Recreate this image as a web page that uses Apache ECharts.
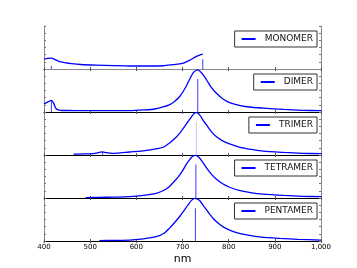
<!DOCTYPE html>
<html><head><meta charset="utf-8">
<script src="https://cdn.jsdelivr.net/npm/echarts@6/dist/echarts.min.js"></script>
<style>html,body{margin:0;padding:0;background:#fff}#c{width:357px;height:268px}</style>
</head><body><div id="c"></div>
<script>
const seriesNames = ['MONOMER', 'DIMER', 'TRIMER', 'TETRAMER', 'PENTAMER'];

const monomerNm  = [400, 408, 416, 424, 432, 445, 460, 480, 513, 550, 585, 620, 658, 679, 694, 705, 715, 723, 730, 737, 744];
const monomerVal = [0.276, 0.294, 0.306, 0.264, 0.216, 0.18, 0.15, 0.126, 0.108, 0.094, 0.084, 0.084, 0.091, 0.12, 0.144, 0.18, 0.24, 0.3, 0.354, 0.39, 0.415];

const dimerNm  = [400, 408, 416, 421, 426, 435, 450, 477, 530, 585, 620, 640, 658, 670, 682, 694, 705, 715, 724, 733, 742, 752, 762, 773, 787, 802, 825, 850, 875, 920, 960, 1000];
const dimerVal = [0.228, 0.276, 0.324, 0.24, 0.096, 0.048, 0.042, 0.036, 0.036, 0.036, 0.06, 0.084, 0.144, 0.192, 0.288, 0.432, 0.648, 0.9, 1.104, 1.176, 1.08, 0.9, 0.696, 0.528, 0.372, 0.264, 0.18, 0.132, 0.108, 0.072, 0.048, 0.036];

const trimerNm  = [464, 490, 510, 520, 527, 535, 549, 565, 585, 610, 630, 645, 658, 672, 685, 694, 705, 715, 724, 730, 738, 745, 752, 762, 773, 787, 802, 825, 850, 875, 920, 960, 1000];
const trimerVal = [0.024, 0.03, 0.048, 0.072, 0.09, 0.066, 0.048, 0.06, 0.084, 0.108, 0.144, 0.18, 0.216, 0.336, 0.48, 0.612, 0.804, 0.984, 1.14, 1.19, 1.104, 0.96, 0.84, 0.66, 0.516, 0.396, 0.312, 0.216, 0.156, 0.108, 0.072, 0.048, 0.036];

const tetramerNm  = [490, 520, 550, 585, 615, 643, 660, 672, 679, 690, 700, 708, 716, 722, 729, 736, 744, 752, 762, 773, 787, 802, 825, 850, 875, 920, 960, 1000];
const tetramerVal = [0.012, 0.018, 0.024, 0.036, 0.072, 0.132, 0.216, 0.324, 0.42, 0.576, 0.756, 0.936, 1.08, 1.164, 1.19, 1.128, 0.996, 0.84, 0.672, 0.528, 0.396, 0.3, 0.204, 0.144, 0.108, 0.072, 0.048, 0.036];

const pentamerNm  = [520, 550, 585, 615, 643, 660, 672, 683, 694, 704, 712, 720, 726, 732, 738, 744, 755, 766, 777, 788, 810, 839, 870, 911, 950, 1000];
const pentamerVal = [0.012, 0.018, 0.024, 0.06, 0.12, 0.216, 0.36, 0.516, 0.684, 0.864, 1.008, 1.14, 1.188, 1.176, 1.116, 1.008, 0.816, 0.636, 0.504, 0.396, 0.264, 0.168, 0.108, 0.072, 0.048, 0.024];

const peakNm      = [744, 733, 730, 729, 728];
const peakLineTop = [0.276, 0.924, 0.924, 0.936, 0.912];
const sidePanel   = [0, 1, 2];
const sideNm      = [416, 416, 527];
const sideLineTop = [0.09, 0.324, 0.084];

const xMin = 400, xMax = 1000, xStep = 100;
const yMax = 1.2, yStep = 0.2;

const curves = [
  [monomerNm, monomerVal], [dimerNm, dimerVal], [trimerNm, trimerVal],
  [tetramerNm, tetramerVal], [pentamerNm, pentamerVal]
];

const FONT = 'DejaVu Sans';
const BLUE = '#0000ff';
const top0 = 26, ph = 43, left = 44, right = 36;

const grid = [], xAxis = [], yAxis = [], series = [], legend = [];
for (let i = 0; i < 5; i++) {
  const top = top0 + ph * i;
  grid.push({ left: left, right: right, top: top, height: ph, show: false });
  const last = i === 4;
  xAxis.push({
    type: 'value', gridIndex: i, min: xMin, max: xMax, interval: xStep, position: 'bottom',
    axisLine: { show: true, lineStyle: { color: '#000', width: 1 } },
    axisTick: { show: true, inside: true, length: 2, lineStyle: { color: '#555' } },
    axisLabel: { show: last, fontSize: 7, color: '#000', fontFamily: FONT, margin: 3 },
    splitLine: { show: false },
    name: last ? 'nm' : '', nameLocation: 'middle', nameGap: 13,
    nameTextStyle: { fontSize: 11, color: '#000', fontFamily: FONT }
  });
  xAxis.push({
    type: 'value', gridIndex: i, min: xMin, max: xMax, interval: xStep, position: 'top',
    axisLine: { show: i === 0, lineStyle: { color: '#888', width: 1 } },
    axisTick: { show: true, inside: true, length: 2, lineStyle: { color: '#555' } },
    axisLabel: { show: false }, splitLine: { show: false }
  });
  yAxis.push({
    type: 'value', gridIndex: i, min: 0, max: yMax, interval: yStep, position: 'left',
    axisLine: { show: true, lineStyle: { color: '#888', width: 1 } },
    axisTick: { show: true, inside: true, length: 2, lineStyle: { color: '#777' } },
    axisLabel: { show: false }, splitLine: { show: false }
  });
  yAxis.push({
    type: 'value', gridIndex: i, min: 0, max: yMax, interval: yStep, position: 'right',
    axisLine: { show: true, lineStyle: { color: '#888', width: 1 } },
    axisTick: { show: true, inside: true, length: 2, lineStyle: { color: '#777' } },
    axisLabel: { show: false }, splitLine: { show: false }
  });

  const [nm, val] = curves[i];
  series.push({
    name: seriesNames[i], type: 'line', xAxisIndex: 2 * i, yAxisIndex: 2 * i,
    data: nm.map((x, k) => [x, val[k]]), symbol: 'none', smooth: 0.25,
    lineStyle: { color: BLUE, width: 1.3 }, itemStyle: { color: BLUE }, z: 3
  });
  series.push({
    name: 'peak' + i, type: 'line', xAxisIndex: 2 * i, yAxisIndex: 2 * i,
    data: [[peakNm[i], 0], [peakNm[i], peakLineTop[i]]], symbol: 'none',
    lineStyle: { color: i === 2 ? '#c8c8f4' : '#3c3cff', width: 1 }, z: 2, silent: true
  });

  legend.push({
    data: [seriesNames[i]], right: 357 - 317, top: top + 5, orient: 'horizontal',
    backgroundColor: '#fff', borderColor: '#333', borderWidth: 1, borderRadius: 0,
    padding: [3, 4, 3, 7], itemWidth: 14, itemHeight: 2, icon: 'rect',
    itemStyle: { color: BLUE, borderWidth: 0 },
    textStyle: { fontSize: 9, color: '#111', fontFamily: FONT, padding: [0, 0, 0, 4], lineHeight: 10 },
    selectedMode: false
  });
}
for (let j = 0; j < sideNm.length; j++) {
  const p = sidePanel[j];
  series.push({
    name: 'side' + j, type: 'line', xAxisIndex: 2 * p, yAxisIndex: 2 * p,
    data: [[sideNm[j], 0], [sideNm[j], sideLineTop[j]]], symbol: 'none',
    lineStyle: { color: '#3c3cff', width: 1 }, z: 2, silent: true
  });
}

const chart = echarts.init(document.getElementById('c'), null, { renderer: 'canvas' });
chart.setOption({
  animation: false,
  backgroundColor: '#fff',
  textStyle: { fontFamily: FONT },
  grid, xAxis, yAxis, series, legend
});
</script></body></html>
